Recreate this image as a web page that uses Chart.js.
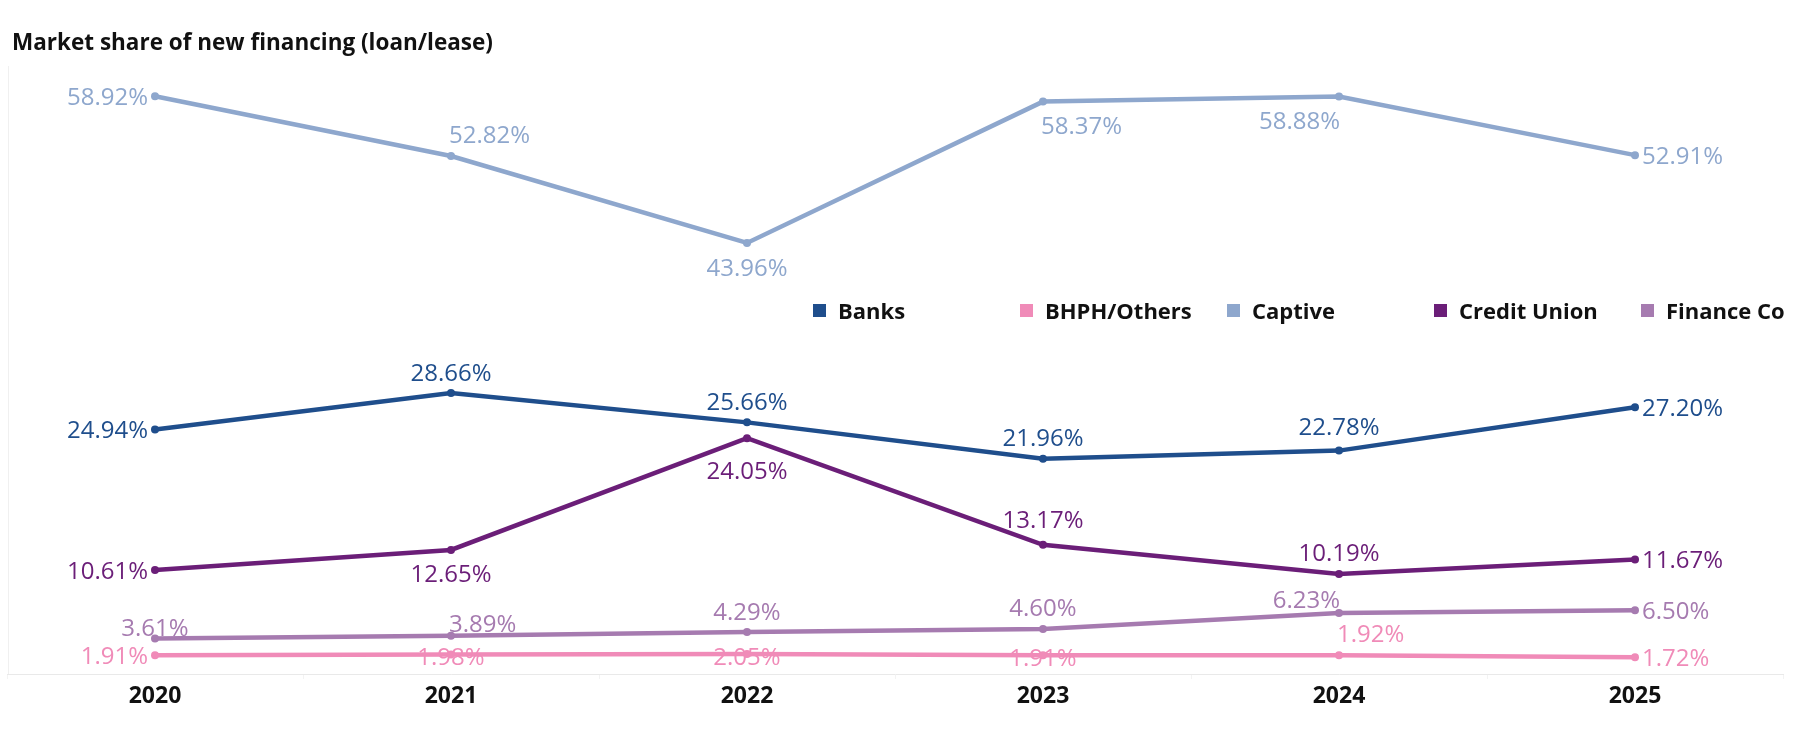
<!DOCTYPE html>
<html>
<head>
<meta charset="utf-8">
<script src="https://cdn.jsdelivr.net/npm/chart.js@4.4.1/dist/chart.umd.min.js"></script>
<style>
  body { margin: 0; background: #fff; font-family: "Open Sans", sans-serif; }
  #wrap { position: relative; width: 1804px; height: 744px; }
  #title { position: absolute; left: 12px; top: 31px; font-size: 22.5px; line-height: 22px; font-weight: 700; color: #111; }
  #legend { position: absolute; top: 299px; left: 0; height: 22px; }
  .item { position: absolute; top: 0; display: flex; align-items: center; height: 22px; font-size: 22px; line-height: 22px; font-weight: 700; color: #111; white-space: nowrap; }
  .box { width: 13px; height: 13px; margin-right: 12px; }
</style>
</head>
<body>
<div id="wrap">
  <canvas id="chart" width="1804" height="744"></canvas>
  <div id="title">Market share of new financing (loan/lease)</div>
  <div id="legend"></div>
</div>
<script>
const years = ["2020", "2021", "2022", "2023", "2024", "2025"];

const banks = [24.94, 28.66, 25.66, 21.96, 22.78, 27.20];
const bhph = [1.91, 1.98, 2.05, 1.91, 1.92, 1.72];
const captive = [58.92, 52.82, 43.96, 58.37, 58.88, 52.91];
const creditUnion = [10.61, 12.65, 24.05, 13.17, 10.19, 11.67];
const financeCo = [3.61, 3.89, 4.29, 4.60, 6.23, 6.50];

const seriesNames = ["Banks", "BHPH/Others", "Captive", "Credit Union", "Finance Co"];
const seriesColors = ["#1f4e8c", "#f08bb8", "#8ea7cd", "#6b1e78", "#a67bb0"];

// where each value label sits relative to its point: [side, vertical shift]
const labelPlacement = {
  "Banks":        [["L", 0], ["T", -21], ["T", -21], ["T", -21], ["T", -24], ["R", 0]],
  "BHPH/Others":  [["L", 0], ["C", 2], ["C", 2], ["C", 2], ["TR", -22], ["R", 0]],
  "Captive":      [["L", 0], ["TR", -22], ["B", 24], ["BR", 24], ["BL", 24], ["R", 0]],
  "Credit Union": [["L", 0], ["B", 23], ["B", 32], ["T", -26], ["T", -22], ["R", 0]],
  "Finance Co":   [["T", -11], ["TR", -13], ["T", -21], ["T", -22], ["TL", -14], ["R", 0]]
};

const seriesData = [banks, bhph, captive, creditUnion, financeCo];

const pointLabels = {
  id: "pointLabels",
  beforeDatasetsDraw(chart) {
    // faint left edge of the pane
    const a = chart.chartArea;
    const ctx = chart.ctx;
    ctx.save();
    ctx.strokeStyle = "#f0f0f0";
    ctx.lineWidth = 1;
    ctx.beginPath();
    ctx.moveTo(a.left + 1.5, a.top);
    ctx.lineTo(a.left + 1.5, a.bottom);
    ctx.stroke();
    ctx.restore();
  },
  afterDatasetsDraw(chart) {
    const ctx = chart.ctx;
    ctx.save();
    ctx.font = '24px "Open Sans"';
    ctx.textBaseline = "middle";
    chart.data.datasets.forEach((ds, di) => {
      const meta = chart.getDatasetMeta(di);
      const place = labelPlacement[ds.label];
      meta.data.forEach((pt, i) => {
        const side = place[i][0];
        let x = pt.x;
        let y = pt.y + place[i][1] + 2;
        let align = "center";
        if (side === "L") { align = "right"; x -= 7; }
        else if (side === "R") { align = "left"; x += 7; }
        else if (side === "TR" || side === "BR") { align = "left"; x -= 2; }
        else if (side === "TL" || side === "BL") { align = "right"; x += 1; }
        ctx.textAlign = align;
        ctx.fillStyle = ds.borderColor;
        ctx.fillText(ds.data[i].toFixed(2) + "%", x, y);
      });
    });
    ctx.restore();
  }
};

const datasets = seriesNames.map((name, i) => ({
  label: name,
  data: seriesData[i],
  borderColor: seriesColors[i],
  backgroundColor: seriesColors[i],
  pointBackgroundColor: seriesColors[i],
  borderWidth: 4.5,
  pointRadius: 4,
  pointBorderWidth: 0,
  pointHoverRadius: 4,
  borderCapStyle: "round",
  tension: 0
}));

new Chart(document.getElementById("chart"), {
  type: "line",
  data: { labels: years, datasets: datasets },
  plugins: [pointLabels],
  options: {
    responsive: false,
    devicePixelRatio: 1,
    animation: false,
    layout: { padding: { left: 7, right: 21, top: 66, bottom: 0 } },
    plugins: {
      legend: { display: false },
      tooltip: { enabled: false },
      title: { display: false }
    },
    scales: {
      x: {
        offset: true,
        afterFit: (s) => { s.height = 70; },
        grid: { offset: true, drawOnChartArea: false, tickLength: 5, color: "#f3f3f3" },
        border: { color: "#e9e9e9" },
        ticks: {
          padding: 4,
          color: "#111",
          font: { family: "Open Sans", size: 23, weight: "bold" }
        }
      },
      y: { display: false, min: 0, max: 62 }
    }
  }
});

// legend built from the same series
const legend = document.getElementById("legend");
seriesNames.forEach((name, i) => {
  const item = document.createElement("div");
  item.className = "item";
  item.style.left = (813 + i * 207) + "px";
  item.innerHTML = '<span class="box" style="background:' + seriesColors[i] + '"></span>' + name;
  legend.appendChild(item);
});
</script>
</body>
</html>
